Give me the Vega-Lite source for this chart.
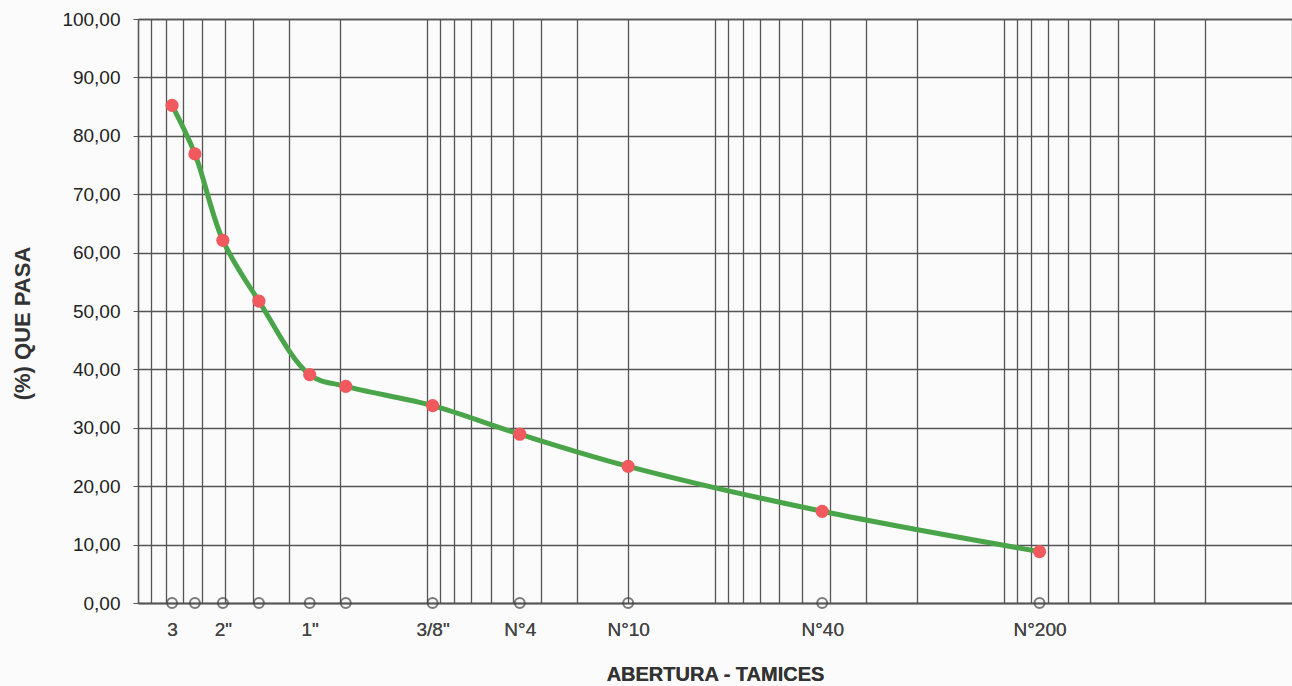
{
  "$schema": "https://vega.github.io/schema/vega-lite/v6.json",
  "width": 1154,
  "height": 584,
  "autosize": "none",
  "padding": {"left": 138, "top": 19, "right": 0, "bottom": 83},
  "background": "#fbfbfb",
  "config": {
    "view": {"stroke": null},
    "font": "Liberation Sans",
    "axisLeft": {
      "grid": true, "gridColor": "#555555", "gridWidth": 1.3, "gridOpacity": 1,
      "domain": true, "domainColor": "#555555", "domainWidth": 1.3,
      "ticks": true, "tickSize": 5, "tickColor": "#555555",
      "labelFont": "Liberation Sans", "labelFontSize": 19, "labelColor": "#222222", "labelPadding": 13,
      "titleFont": "Liberation Sans", "titleFontSize": 22, "titleFontWeight": "bold", "titleColor": "#333333",
      "titleAngle": -90, "titleAlign": "center", "titleBaseline": "middle", "titleX": -116, "titleY": 304
    },
    "axisTop": {
      "grid": true, "gridColor": "#555555", "gridWidth": 1.3, "gridOpacity": 1,
      "domain": true, "domainColor": "#555555", "domainWidth": 1.3,
      "ticks": false, "labels": false
    },
    "axisBottom": {
      "grid": false, "domain": true, "domainColor": "#555555", "domainWidth": 1.3,
      "ticks": false, "tickSize": 0,
      "labelFont": "Liberation Sans", "labelFontSize": 19, "labelColor": "#444444", "labelPadding": 17,
      "labelFlush": false, "labelOverlap": false,
      "titleFont": "Liberation Sans", "titleFontSize": 20, "titleFontWeight": "bold", "titleColor": "#333333",
      "titleBaseline": "alphabetic", "titleY": 77
    }
  },
  "data": {
    "values": [
      {"tamiz": "3\"", "abertura": 76.2, "pasa": 85.2},
      {"tamiz": "2 1/2\"", "abertura": 63.5, "pasa": 76.9},
      {"tamiz": "2\"", "abertura": 50.8, "pasa": 62.1},
      {"tamiz": "1 1/2\"", "abertura": 38.1, "pasa": 51.7},
      {"tamiz": "1\"", "abertura": 25.4, "pasa": 39.1},
      {"tamiz": "3/4\"", "abertura": 19.05, "pasa": 37.1},
      {"tamiz": "3/8\"", "abertura": 9.525, "pasa": 33.8},
      {"tamiz": "N°4", "abertura": 4.75, "pasa": 28.9},
      {"tamiz": "N°10", "abertura": 2.0, "pasa": 23.4},
      {"tamiz": "N°40", "abertura": 0.425, "pasa": 15.7},
      {"tamiz": "N°200", "abertura": 0.075, "pasa": 8.8}
    ]
  },
  "layer": [
    {
      "mark": {"type": "point", "shape": "circle", "filled": false, "size": 100, "stroke": "#444444", "strokeWidth": 2},
      "encoding": {
        "x": {
          "field": "abertura", "type": "quantitative",
          "scale": {"type": "log", "domain": [0.01, 100], "reverse": true},
          "axis": {
            "orient": "top", "title": null,
            "values": [0.01, 0.02, 0.03, 0.04, 0.05, 0.06, 0.07, 0.08, 0.09, 0.1, 0.2, 0.3, 0.4, 0.5, 0.6, 0.7, 0.8, 0.9, 1, 2, 3, 4, 5, 6, 7, 8, 9, 10, 20, 30, 40, 50, 60, 70, 80, 90, 100]
          }
        },
        "y": {
          "datum": 0, "type": "quantitative",
          "scale": {"domain": [0, 100], "nice": false},
          "axis": {"orient": "left", "title": "(%) QUE PASA", "values": [0, 10, 20, 30, 40, 50, 60, 70, 80, 90, 100], "labelExpr": "replace(format(datum.value, '.2f'), '.', ',')"}
        }
      }
    },
    {
      "mark": {"type": "line", "interpolate": "catmull-rom", "color": "#4aa54a", "strokeWidth": 5},
      "encoding": {
        "x": {
          "field": "abertura", "type": "quantitative",
          "scale": {"type": "log", "domain": [0.01, 100], "reverse": true},
          "axis": {
            "orient": "bottom", "title": "ABERTURA - TAMICES",
            "values": [76.2, 63.5, 50.8, 38.1, 25.4, 19.05, 9.525, 4.75, 2.0, 0.425, 0.075],
            "labelExpr": "datum.value == 76.2 ? '3' : datum.value == 50.8 ? '2\"' : datum.value == 25.4 ? '1\"' : datum.value == 9.525 ? '3/8\"' : datum.value == 4.75 ? 'N°4' : datum.value == 2 ? 'N°10' : datum.value == 0.425 ? 'N°40' : datum.value == 0.075 ? 'N°200' : ''"
          }
        },
        "y": {
          "field": "pasa", "type": "quantitative",
          "scale": {"domain": [0, 100], "nice": false},
          "axis": {"orient": "left", "title": "(%) QUE PASA", "values": [0, 10, 20, 30, 40, 50, 60, 70, 80, 90, 100], "labelExpr": "replace(format(datum.value, '.2f'), '.', ',')"}
        }
      }
    },
    {
      "mark": {"type": "point", "shape": "circle", "filled": true, "size": 175, "color": "#f05a5e", "opacity": 1},
      "encoding": {
        "x": {
          "field": "abertura", "type": "quantitative",
          "scale": {"type": "log", "domain": [0.01, 100], "reverse": true},
          "axis": {
            "orient": "bottom", "title": "ABERTURA - TAMICES",
            "values": [76.2, 63.5, 50.8, 38.1, 25.4, 19.05, 9.525, 4.75, 2.0, 0.425, 0.075],
            "labelExpr": "datum.value == 76.2 ? '3' : datum.value == 50.8 ? '2\"' : datum.value == 25.4 ? '1\"' : datum.value == 9.525 ? '3/8\"' : datum.value == 4.75 ? 'N°4' : datum.value == 2 ? 'N°10' : datum.value == 0.425 ? 'N°40' : datum.value == 0.075 ? 'N°200' : ''"
          }
        },
        "y": {
          "field": "pasa", "type": "quantitative",
          "scale": {"domain": [0, 100], "nice": false},
          "axis": {"orient": "left", "title": "(%) QUE PASA", "values": [0, 10, 20, 30, 40, 50, 60, 70, 80, 90, 100], "labelExpr": "replace(format(datum.value, '.2f'), '.', ',')"}
        }
      }
    }
  ],
  "resolve": {"axis": {"x": "independent"}}
}
